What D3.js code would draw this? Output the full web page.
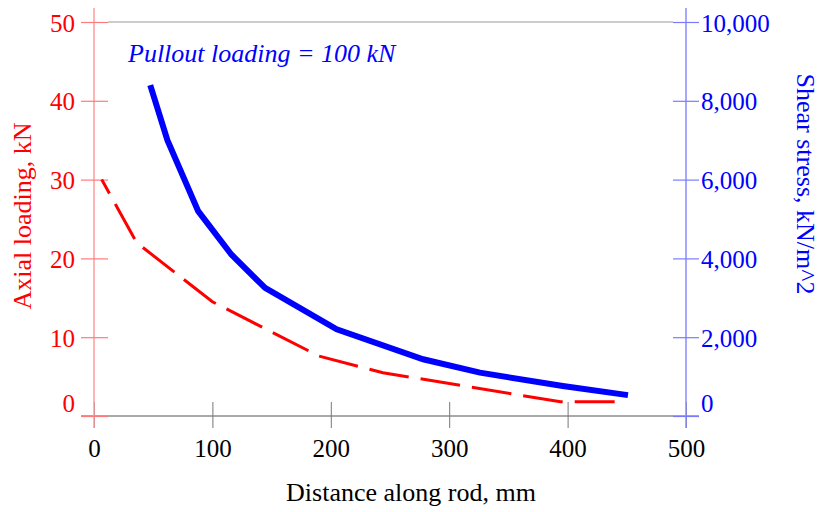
<!DOCTYPE html>
<html>
<head>
<meta charset="utf-8">
<script src="https://cdn.jsdelivr.net/npm/d3@7"></script>
<style>
  html, body { margin: 0; padding: 0; background: #fff; }
  svg { display: block; font-family: "Liberation Serif", "Times New Roman", serif; }
</style>
</head>
<body>
<svg id="chart" width="819" height="512"></svg>
<script>
// Axial load (kN) along the rod
const distAxial = [6.5, 36, 100, 190, 244, 394, 448];
const axialKN = [30, 22, 14.5, 7.6, 5.5, 1.8, 1.8];

// Interface shear stress (kN/m^2) along the rod
const distShear = [47.5, 62, 88, 116, 144.5, 205, 278, 326, 396, 451];
const shearKNm2 = [8400, 7000, 5200, 4100, 3250, 2200, 1440, 1100, 760, 530];

// Tick values
const xTicks = [0, 100, 200, 300, 400, 500];
const axialTicks = [0, 10, 20, 30, 40, 50];
const shearTicks = [0, 2000, 4000, 6000, 8000, 10000];

const svg = d3.select("#chart");

const x = d3.scaleLinear().domain([0, 500]).range([94, 686]);
const yL = d3.scaleLinear().domain([0, 50]).range([416, 22]);
const yR = d3.scaleLinear().domain([0, 10000]).range([416, 22]);

const tickFont = 25, titleFont = 26;

// top frame line
svg.append("line")
  .attr("x1", 108).attr("x2", 673)
  .attr("y1", yL(50)).attr("y2", yL(50))
  .attr("stroke", "#999").attr("stroke-width", 1);

// bottom axis
const gx = svg.append("g").attr("transform", `translate(0,${yL(0)})`)
  .call(d3.axisBottom(x).tickValues(xTicks).tickFormat(d3.format("d")));
gx.select(".domain").remove();
gx.insert("line", ":first-child")
  .attr("x1", 81).attr("x2", 699).attr("y1", 0).attr("y2", 0)
  .attr("stroke", "#555").attr("stroke-width", 1);
gx.selectAll(".tick line").attr("y1", -14).attr("y2", 12)
  .attr("stroke", "#777").attr("stroke-width", 1);
gx.selectAll(".tick text")
  .attr("y", 41).attr("dy", null)
  .attr("fill", "#000")
  .style("font-size", tickFont + "px")
  .style("font-family", "Liberation Serif");

// left axis (axial load)
const gl = svg.append("g").attr("transform", `translate(${x(0)},0)`)
  .call(d3.axisLeft(yL).tickValues(axialTicks).tickFormat(d3.format("d")));
gl.select(".domain").remove();
gl.insert("line", ":first-child")
  .attr("x1", 0).attr("x2", 0).attr("y1", 8).attr("y2", 428)
  .attr("stroke", "#ff9c9c").attr("stroke-width", 1.5);
gl.selectAll(".tick line").attr("x1", -13).attr("x2", 14)
  .attr("stroke", "#ff7a7a").attr("stroke-width", 1.2);
gl.selectAll(".tick text")
  .attr("x", -19).attr("dy", null)
  .attr("y", d => d === 0 ? -5 : 9)
  .attr("fill", "#ff0000")
  .style("font-size", tickFont + "px")
  .style("font-family", "Liberation Serif");

// right axis (shear stress)
const gr = svg.append("g").attr("transform", `translate(${x(500)},0)`)
  .call(d3.axisRight(yR).tickValues(shearTicks).tickFormat(d3.format(",")));
gr.select(".domain").remove();
gr.insert("line", ":first-child")
  .attr("x1", 0).attr("x2", 0).attr("y1", 8).attr("y2", 428)
  .attr("stroke", "#8a8aff").attr("stroke-width", 1.5);
gr.selectAll(".tick line").attr("x1", -13).attr("x2", 13)
  .attr("stroke", "#7a7aff").attr("stroke-width", 1.2);
gr.selectAll(".tick text")
  .attr("x", 15).attr("dy", null)
  .attr("y", d => d === 0 ? -5 : 9)
  .attr("fill", "#0000ff")
  .style("font-size", tickFont + "px")
  .style("font-family", "Liberation Serif");

// axial load curve (dashed red)
const axialData = distAxial.map((d, i) => [d, axialKN[i]]);
svg.append("path")
  .datum(axialData)
  .attr("fill", "none")
  .attr("stroke", "#ff0000")
  .attr("stroke-width", 3)
  .attr("stroke-dasharray", "40,12")
  .attr("stroke-dashoffset", 24)
  .attr("d", d3.line().x(d => x(d[0])).y(d => yL(d[1])));

// shear stress curve (solid blue)
const shearData = distShear.map((d, i) => [d, shearKNm2[i]]);
svg.append("path")
  .datum(shearData)
  .attr("fill", "none")
  .attr("stroke", "#0000ff")
  .attr("stroke-width", 6)
  .attr("d", d3.line().x(d => x(d[0])).y(d => yR(d[1])));

// annotation
svg.append("text")
  .attr("x", 128).attr("y", 62)
  .attr("fill", "#0000ff")
  .style("font-style", "italic")
  .style("font-size", titleFont + "px")
  .text("Pullout loading = 100 kN");

// axis titles
svg.append("text")
  .attr("transform", "translate(31,216) rotate(-90)")
  .attr("text-anchor", "middle")
  .attr("fill", "#ff0000")
  .style("font-size", titleFont + "px")
  .text("Axial loading, kN");

svg.append("text")
  .attr("transform", "translate(797,184) rotate(90)")
  .attr("text-anchor", "middle")
  .attr("fill", "#0000ff")
  .style("font-size", titleFont + "px")
  .text("Shear stress, kN/m^2");

svg.append("text")
  .attr("x", 411).attr("y", 501)
  .attr("text-anchor", "middle")
  .attr("fill", "#000")
  .style("font-size", titleFont + "px")
  .text("Distance along rod, mm");
</script>
</body>
</html>
